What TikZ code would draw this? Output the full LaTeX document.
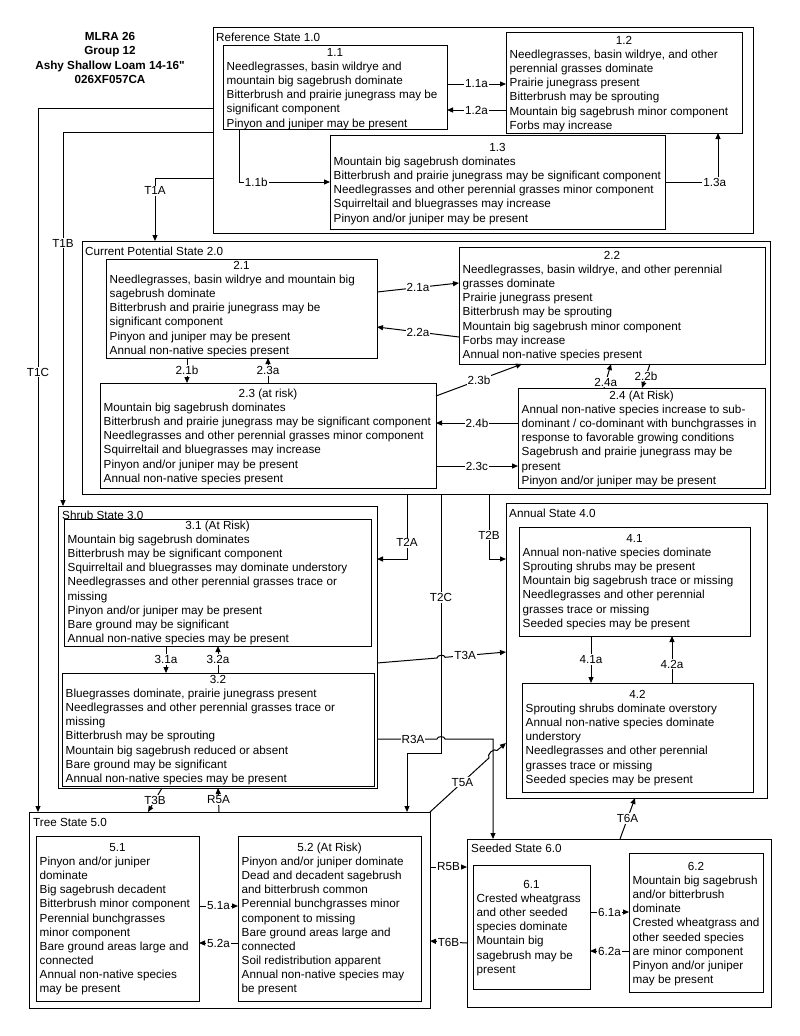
\documentclass[tikz,border=0pt]{standalone}
\usepackage{fontspec}
\setmainfont{Liberation Sans}
\usetikzlibrary{arrows.meta}
\newcommand\dfont{\fontsize{11.7pt}{14.1pt}\selectfont}
\newcommand\straightquote{\XeTeXglyph\XeTeXcharglyph"22\relax}
\newcommand\stbox[8]{%
  \node[bx, minimum width=#4pt-#2pt, minimum height=#5pt-#3pt, anchor=north west] (#1) at (#2,#3) {};
  \node[hd, anchor=base] (#1h) at ({(#2+#4)/2},{#6+4.2}) {#7};
  \node[bd, anchor=north west] (#1t) at ({#2+3.5},{#6+10}) {#8};}
\newcommand\stframe[8]{%
  \node[bx, minimum width=#4pt-#2pt, minimum height=#5pt-#3pt, anchor=north west] (#1) at (#2,#3) {};
  \node[hd, anchor=base west] (#1l) at (#7,{#8+4.2}) {#6};}
\begin{document}
\begin{tikzpicture}[x=1pt,y=-1pt,
  bx/.style={draw, line width=1pt, inner sep=0pt, outer sep=0pt},
  hd/.style={inner sep=0pt, font=\dfont},
  bd/.style={inner sep=0pt, font=\dfont, align=left},
  lbl/.style={fill=white, inner sep=1pt, font=\dfont},
  ln/.style={line width=1pt},
  arr/.style={line width=1pt, -{Triangle[length=6pt,width=5pt]}}]
\useasboundingbox (0,0) rectangle (800,1036);

\node[font=\bfseries\dfont, align=center, inner sep=0pt] (title) at (110,58)
  {MLRA 26\\Group 12\\Ashy Shallow Loam 14-16\straightquote\\026XF057CA};

% ---- frames
\stframe{R1}{213}{27}{753}{233}{Reference State 1.0}{216}{37}
\stframe{S2}{82}{241}{770}{494}{Current Potential State 2.0}{85}{251}
\stframe{S3}{58}{506}{377}{788}{Shrub State 3.0}{62}{515}
\stframe{S4}{506}{503}{767}{798}{Annual State 4.0}{509}{513}
\stframe{S5}{29}{812}{430}{1008}{Tree State 5.0}{33}{822}
\stframe{S6}{467}{839}{771}{1007}{Seeded State 6.0}{471}{848}

% ---- community boxes
\stbox{b11}{223}{45}{447}{129}{52}{1.1}{Needlegrasses, basin wildrye and\\mountain big sagebrush dominate\\Bitterbrush and prairie junegrass may be\\significant component\\Pinyon and juniper may be present}
\stbox{b12}{506}{32}{742}{133}{40}{1.2}{Needlegrasses, basin wildrye, and other\\perennial grasses dominate\\Prairie junegrass present\\Bitterbrush may be sprouting\\Mountain big sagebrush minor component\\Forbs may increase}
\stbox{b13}{330}{135}{665}{229}{147}{1.3}{Mountain big sagebrush dominates\\Bitterbrush and prairie junegrass may be significant component\\Needlegrasses and other perennial grasses minor component\\Squirreltail and bluegrasses may increase\\Pinyon and/or juniper may be present}

\stbox{b21}{106}{259}{377}{358}{265}{2.1}{Needlegrasses, basin wildrye and mountain big\\sagebrush dominate\\Bitterbrush and prairie junegrass may be\\significant component\\Pinyon and juniper may be present\\Annual non-native species present}
\stbox{b22}{459}{247}{765}{364}{255}{2.2}{Needlegrasses, basin wildrye, and other perennial\\grasses dominate\\Prairie junegrass present\\Bitterbrush may be sprouting\\Mountain big sagebrush minor component\\Forbs may increase\\Annual non-native species present}
\stbox{b23}{100}{383}{436}{488}{393}{2.3 (at risk)}{Mountain big sagebrush dominates\\Bitterbrush and prairie junegrass may be significant component\\Needlegrasses and other perennial grasses minor component\\Squirreltail and bluegrasses may increase\\Pinyon and/or juniper may be present\\Annual non-native species present}
\stbox{b24}{518}{388}{765}{488}{395}{2.4 (At Risk)}{Annual non-native species increase to sub-\\dominant / co-dominant with bunchgrasses in\\response to favorable growing conditions\\Sagebrush and prairie junegrass may be\\present\\Pinyon and/or juniper may be present}

\stbox{b31}{64}{519}{371}{646}{525}{3.1 (At Risk)}{Mountain big sagebrush dominates\\Bitterbrush may be significant component\\Squirreltail and bluegrasses may dominate understory\\Needlegrasses and other perennial grasses trace or\\missing\\Pinyon and/or juniper may be present\\Bare ground may be significant\\Annual non-native species may be present}
\stbox{b32}{62}{673}{374}{786}{679}{3.2}{Bluegrasses dominate, prairie junegrass present\\Needlegrasses and other perennial grasses trace or\\missing\\Bitterbrush may be sprouting\\Mountain big sagebrush reduced or absent\\Bare ground may be significant\\Annual non-native species may be present}

\stbox{b41}{519}{527}{750}{636}{538}{4.1}{Annual non-native species dominate\\Sprouting shrubs may be present\\Mountain big sagebrush trace or missing\\Needlegrasses and other perennial\\grasses trace or missing\\Seeded species may be present}
\stbox{b42}{522}{683}{753}{792}{694}{4.2}{Sprouting shrubs dominate overstory\\Annual non-native species dominate\\understory\\Needlegrasses and other perennial\\grasses trace or missing\\Seeded species may be present}

\stbox{b51}{36}{836}{199}{1001}{847}{5.1}{Pinyon and/or juniper\\dominate\\Big sagebrush decadent\\Bitterbrush minor component\\Perennial bunchgrasses\\minor component\\Bare ground areas large and\\connected\\Annual non-native species\\may be present}
\stbox{b52}{238}{836}{421}{1001}{847}{5.2 (At Risk)}{Pinyon and/or juniper dominate\\Dead and decadent sagebrush\\and bitterbrush common\\Perennial bunchgrasses minor\\component to missing\\Bare ground areas large and\\connected\\Soil redistribution apparent\\Annual non-native species may\\be present}

\stbox{b61}{473}{865}{590}{989}{884}{6.1}{Crested wheatgrass\\and other seeded\\species dominate\\Mountain big\\sagebrush may be\\present}
\stbox{b62}{629}{853}{763}{992}{866}{6.2}{Mountain big sagebrush\\and/or bitterbrush\\dominate\\Crested wheatgrass and\\other seeded species\\are minor component\\Pinyon and/or juniper\\may be present}

% ---- state 1 pathways
\draw[arr] (b11.east |- 0,84) -- node[lbl]{1.1a} (b12.west |- 0,84);
\draw[arr] (b12.west |- 0,110) -- node[lbl]{1.2a} (b11.east |- 0,110);
\draw[arr] (b11.south -| 239,0) -- (239,182) -- node[lbl,pos=.19]{1.1b} (b13.west |- 0,182);
\draw[arr] (b13.east |- 0,182) -- node[lbl,pos=.94]{1.3a} (718,182) -- (b12.south -| 718,0);

% ---- transitions from state 1
\draw[arr] (R1.west |- 0,108) -- (38,108) -- node[lbl,pos=.375]{T1C} (S5.north -| 38,0);
\draw[arr] (R1.west |- 0,132) -- (63,132) -- node[lbl,pos=.297]{T1B} (S3.north -| 63,0);
\draw[arr] (R1.west |- 0,178) -- (155,178) -- node[lbl,pos=.2]{T1A} (S2.north -| 155,0);

% ---- state 2 pathways
\draw[arr] (b21.east |- 0,292) -- node[lbl]{2.1a} (b22.west |- 0,283);
\draw[arr] (b22.west |- 0,337) -- node[lbl]{2.2a} (b21.east |- 0,327);
\draw[arr] (b21.south -| 187,0) -- node[lbl]{2.1b} (b23.north -| 187,0);
\draw[arr] (b23.north -| 268,0) -- node[lbl]{2.3a} (b21.south -| 268,0);
\draw[arr] (b23.east |- 0,396) -- node[lbl]{2.3b} (b22.south -| 522,0);
\draw[arr] (b24.north -| 604,0) -- node[lbl,pos=.25]{2.4a} (b22.south -| 611,0);
\draw[arr] (b22.south -| 650,0) -- node[lbl]{2.2b} (b24.north -| 642,0);
\draw[arr] (b24.west |- 0,423) -- node[lbl]{2.4b} (b23.east |- 0,423);
\draw[arr] (b23.east |- 0,466) -- node[lbl]{2.3c} (b24.west |- 0,466);

% ---- transitions from state 2
\draw[arr] (S2.south -| 407,0) -- node[lbl,pos=.75]{T2A} (407,559) -- (S3.east |- 0,559);
\draw[arr] (S2.south -| 489,0) -- node[lbl,pos=.63]{T2B} (489,559) -- (S4.west |- 0,559);
\draw[arr] (S2.south -| 441,0) -- node[lbl,pos=.4]{T2C} (441,753) -- (407,753) -- (S5.north -| 407,0);

% ---- state 3 pathways and transitions
\draw[arr] (b31.south -| 166,0) -- node[lbl]{3.1a} (b32.north -| 166,0);
\draw[arr] (b32.north -| 218,0) -- node[lbl]{3.2a} (b31.south -| 218,0);
\draw[arr] (S3.east |- 0,663) -- (437,658) to[out=90,in=90] (445,657.3) -- node[lbl,pos=.33]{T3A} (S4.west |- 0,652);
\draw[arr] (S3.east |- 0,739) -- node[lbl,pos=.6]{R3A} (437,739) to[out=90,in=90] (445,739) -- (493,739) -- (S6.north -| 493,0);
\draw[arr] (S3.south -| 162,0) -- node[lbl]{T3B} (S5.north -| 148,0);

% ---- state 4 pathways
\draw[arr] (b41.south -| 591,0) -- node[lbl]{4.1a} (b42.north -| 591,0);
\draw[arr] (b42.north -| 672,0) -- node[lbl,pos=.4]{4.2a} (b41.south -| 672,0);

% ---- state 5 pathways and transitions
\draw[arr] (b51.east |- 0,906) -- node[lbl]{5.1a} (b52.west |- 0,906);
\draw[arr] (b52.west |- 0,943) -- node[lbl]{5.2a} (b51.east |- 0,943);
\draw[arr] (S5.north -| 219,0) -- node[lbl]{R5A} (S3.south -| 218,0);
\draw[arr] (S5.north east) -- node[lbl,pos=.55]{T5A} (489,757.9) to[out=133,in=133] (497,750.5) -- (S4.west |- 0,743);
\draw[arr] (S5.east |- 0,867) -- node[lbl]{R5B} (S6.west |- 0,867);

% ---- state 6 pathways and transitions
\draw[arr] (b61.east |- 0,912) -- node[lbl]{6.1a} (b62.west |- 0,912);
\draw[arr] (b62.west |- 0,951) -- node[lbl]{6.2a} (b61.east |- 0,951);
\draw[arr] (S6.west |- 0,943) -- node[lbl]{T6B} (S5.east |- 0,941);
\draw[arr] (S6.north -| 620,0) -- node[lbl]{T6A} (S4.south -| 635,0);
\end{tikzpicture}
\end{document}
